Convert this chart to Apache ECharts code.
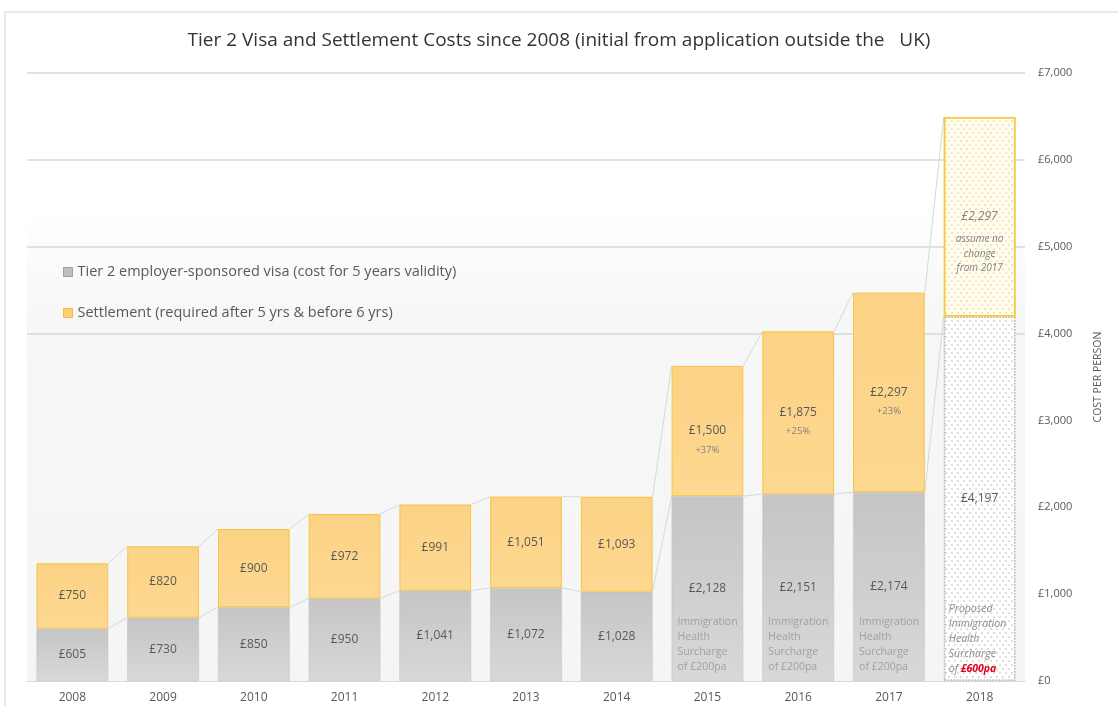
<!DOCTYPE html>
<html>
<head>
<meta charset="utf-8">
<script src="https://cdn.jsdelivr.net/npm/echarts@6/dist/echarts.min.js"></script>
<style>
  html, body { margin: 0; padding: 0; background: #ffffff; }
  #frame { position: absolute; left: 4px; top: 11px; width: 1114px; height: 695px;
           border-left: 2px solid #e9e9e9; border-top: 2px solid #e9e9e9; box-sizing: border-box; }
  #chart { position: absolute; left: 0; top: 0; width: 1118px; height: 706px; }
</style>
</head>
<body>
<div id="frame"></div>
<div id="chart"></div>
<script>
// ---- data ----
const years = ['2008','2009','2010','2011','2012','2013','2014','2015','2016','2017','2018'];
const visaCost = [605, 730, 850, 950, 1041, 1072, 1028, 2128, 2151, 2174, 4197];
const settlementCost = [750, 820, 900, 972, 991, 1051, 1093, 1500, 1875, 2297, 2297];
const settlementChange = ['', '', '', '', '', '', '', '+37%', '+25%', '+23%', ''];
const settlementNote2018 = 'assume no\nchange\nfrom 2017';
const surchargeNote = 'Immigration\nHealth\nSurcharge\nof £200pa';
const surchargeYears = [7, 8, 9];
const proposedIndex = 10;
const yTickMin = 0, yTickMax = 7000, yTickStep = 1000;

const FONT = '"Open Sans", "DejaVu Sans", sans-serif';
const BAR_FRAC = 0.79;
const gbp = v => '£' + v.toLocaleString('en-GB');

const chart = echarts.init(document.getElementById('chart'));

const greyFill = new echarts.graphic.LinearGradient(0, 0, 0, 1, [
  { offset: 0, color: '#c5c5c5' }, { offset: 1, color: '#d8d8d8' }]);
const yellowFill = new echarts.graphic.LinearGradient(0, 0, 0, 1, [
  { offset: 0, color: '#fcd385' }, { offset: 1, color: '#fdd891' }]);

const visaData = visaCost.map((v, i) => i === proposedIndex ? {
  value: v,
  itemStyle: {
    color: '#ffffff', borderColor: '#bdbdbd', borderType: 'dotted', borderWidth: 1.5,
    decal: { symbol: 'circle', symbolSize: 0.9, color: '#cfcfcf',
             dashArrayX: [[2, 4], [0, 3, 2, 1]], dashArrayY: [2, 2] }
  }
} : v);

const settlementData = settlementCost.map((v, i) => {
  if (i === proposedIndex) {
    return {
      value: v,
      itemStyle: {
        color: '#fffdf2', borderColor: '#f6c842', borderWidth: 1.5,
        decal: { symbol: 'circle', symbolSize: 0.9, color: '#f3d98f',
                 dashArrayX: [[2, 4], [0, 3, 2, 1]], dashArrayY: [2, 2] }
      },
      label: { offset: [0, 22] }
    };
  }
  if (settlementChange[i]) return { value: v, label: { offset: [0, 9.5] } };
  return v;
});

// connector lines between neighbouring bar tops
const connectorData = [];
for (let i = 0; i < years.length - 1; i++) {
  connectorData.push([i, visaCost[i] + settlementCost[i], visaCost[i + 1] + settlementCost[i + 1],
                      visaCost[i], visaCost[i + 1]]);
}
const noteData = surchargeYears.map(i => [i, 0]).concat([[proposedIndex, 0]]);

const option = {
  animation: false,
  textStyle: { fontFamily: FONT },
  title: {
    text: 'Tier 2 Visa and Settlement Costs since 2008 (initial from application outside the   UK)',
    left: 'center', top: 26,
    textStyle: { fontFamily: FONT, fontSize: 19, fontWeight: 'normal', color: '#333333' }
  },
  legend: {
    orient: 'vertical', left: 58, top: 259, itemGap: 25, itemWidth: 9, itemHeight: 9,
    icon: 'rect', itemStyle: { borderWidth: 0 },
    textStyle: { fontFamily: FONT, fontSize: 14.5, color: '#595959', lineHeight: 16 },
    data: [
      { name: 'Tier 2 employer-sponsored visa (cost for 5 years validity)',
        itemStyle: { color: '#bfbfbf', borderColor: '#9f9f9f', borderWidth: 1 } },
      { name: 'Settlement (required after 5 yrs & before 6 yrs)',
        itemStyle: { color: '#fcd07a', borderColor: '#f3bd3c', borderWidth: 1 } }
    ]
  },
  grid: {
    left: 27, right: 93, top: 73, bottom: 25, show: true, borderWidth: 0,
    backgroundColor: new echarts.graphic.LinearGradient(0, 0, 0, 1, [
      { offset: 0, color: '#ffffff' }, { offset: 0.22, color: '#ffffff' },
      { offset: 0.4, color: '#f7f7f7' }, { offset: 1, color: '#f5f5f5' }])
  },
  xAxis: {
    type: 'category', data: years,
    axisLine: { lineStyle: { color: '#d9d9d9', width: 1 } },
    axisTick: { show: false },
    axisLabel: { color: '#595959', fontSize: 12, margin: 11, fontFamily: FONT }
  },
  yAxis: {
    type: 'value', position: 'right', min: yTickMin, max: yTickMax, interval: yTickStep,
    name: 'COST PER PERSON', nameLocation: 'middle', nameRotate: 90, nameGap: 68,
    nameTextStyle: { color: '#595959', fontSize: 10.5, fontFamily: FONT },
    axisLine: { show: false },
    axisTick: { show: false },
    axisLabel: { color: '#595959', fontSize: 11, margin: 13, fontFamily: FONT,
                 formatter: v => gbp(v) },
    splitLine: { lineStyle: { width: 1.5,
      color: ['rgba(0,0,0,0)', 'rgba(0,0,0,0)', 'rgba(0,0,0,0)', 'rgba(0,0,0,0)',
              '#d9d9d9', '#d9d9d9', '#d9d9d9', '#d9d9d9'] } }
  },
  series: [
    {
      name: 'Tier 2 employer-sponsored visa (cost for 5 years validity)',
      type: 'bar', stack: 'cost', barWidth: (BAR_FRAC * 100) + '%',
      itemStyle: { color: greyFill, borderColor: '#c0c0c0', borderWidth: 0.5 },
      label: { show: true, position: 'inside', color: '#595959', fontSize: 12, fontFamily: FONT,
               formatter: p => gbp(p.value) },
      data: visaData
    },
    {
      name: 'Settlement (required after 5 yrs & before 6 yrs)',
      type: 'bar', stack: 'cost', barWidth: (BAR_FRAC * 100) + '%',
      itemStyle: { color: yellowFill, borderColor: '#f5c445', borderWidth: 1 },
      label: {
        show: true, position: 'inside', color: '#595959', fontSize: 12, fontFamily: FONT,
        formatter: p => {
          const i = p.dataIndex;
          if (i === proposedIndex) return '{vi|' + gbp(p.value) + '}\n{n|' + settlementNote2018 + '}';
          if (settlementChange[i]) return '{v|' + gbp(p.value) + '}\n{p|' + settlementChange[i] + '}';
          return gbp(p.value);
        },
        rich: {
          v: { fontSize: 12, color: '#595959', lineHeight: 19, fontFamily: FONT },
          p: { fontSize: 9.5, color: '#7f7f7f', lineHeight: 19, fontFamily: FONT },
          vi: { fontSize: 12, color: '#7f7f7f', fontStyle: 'italic', lineHeight: 30, fontFamily: FONT },
          n: { fontSize: 10, color: '#7f7f7f', fontStyle: 'italic', lineHeight: 14.5, fontFamily: FONT }
        }
      },
      data: settlementData
    },
    {
      type: 'custom', silent: true, z: 1,
      renderItem: (params, api) => {
        const i = api.value(0);
        const half = api.size([1, 0])[0] * BAR_FRAC / 2;
        const a1 = api.coord([i, api.value(1)]), a2 = api.coord([i + 1, api.value(2)]);
        const b1 = api.coord([i, api.value(3)]), b2 = api.coord([i + 1, api.value(4)]);
        const st = { stroke: '#d3d9df', lineWidth: 1 };
        return { type: 'group', children: [
          { type: 'line', shape: { x1: a1[0] + half, y1: a1[1], x2: a2[0] - half, y2: a2[1] }, style: st },
          { type: 'line', shape: { x1: b1[0] + half, y1: b1[1], x2: b2[0] - half, y2: b2[1] }, style: st }
        ] };
      },
      data: connectorData
    },
    {
      type: 'custom', silent: true, z: 5,
      renderItem: (params, api) => {
        const i = api.value(0);
        const half = api.size([1, 0])[0] * BAR_FRAC / 2;
        const p = api.coord([i, 0]);
        if (i === proposedIndex) {
          return { type: 'text', x: p[0] - half + 5, y: p[1] - 4,
            style: {
              text: '{i|Proposed}\n{i|Immigration}\n{i|Health}\n{i|Surcharge}\n{i|of }{r|£600pa}',
              align: 'left', verticalAlign: 'bottom',
              rich: {
                i: { fontSize: 10.5, fontStyle: 'italic', fill: '#8c8c8c', lineHeight: 15, fontFamily: FONT },
                r: { fontSize: 10.5, fontStyle: 'italic', fontWeight: 'bold', fill: '#e0001b', lineHeight: 15, fontFamily: FONT }
              }
            } };
        }
        return { type: 'text', x: p[0] - half + 6, y: p[1] - 6.5,
          style: { text: surchargeNote, align: 'left', verticalAlign: 'bottom',
                   fill: '#a0a0a0', fontSize: 10.5, lineHeight: 15, fontFamily: FONT } };
      },
      data: noteData
    }
  ]
};
chart.setOption(option);
</script>
</body>
</html>
